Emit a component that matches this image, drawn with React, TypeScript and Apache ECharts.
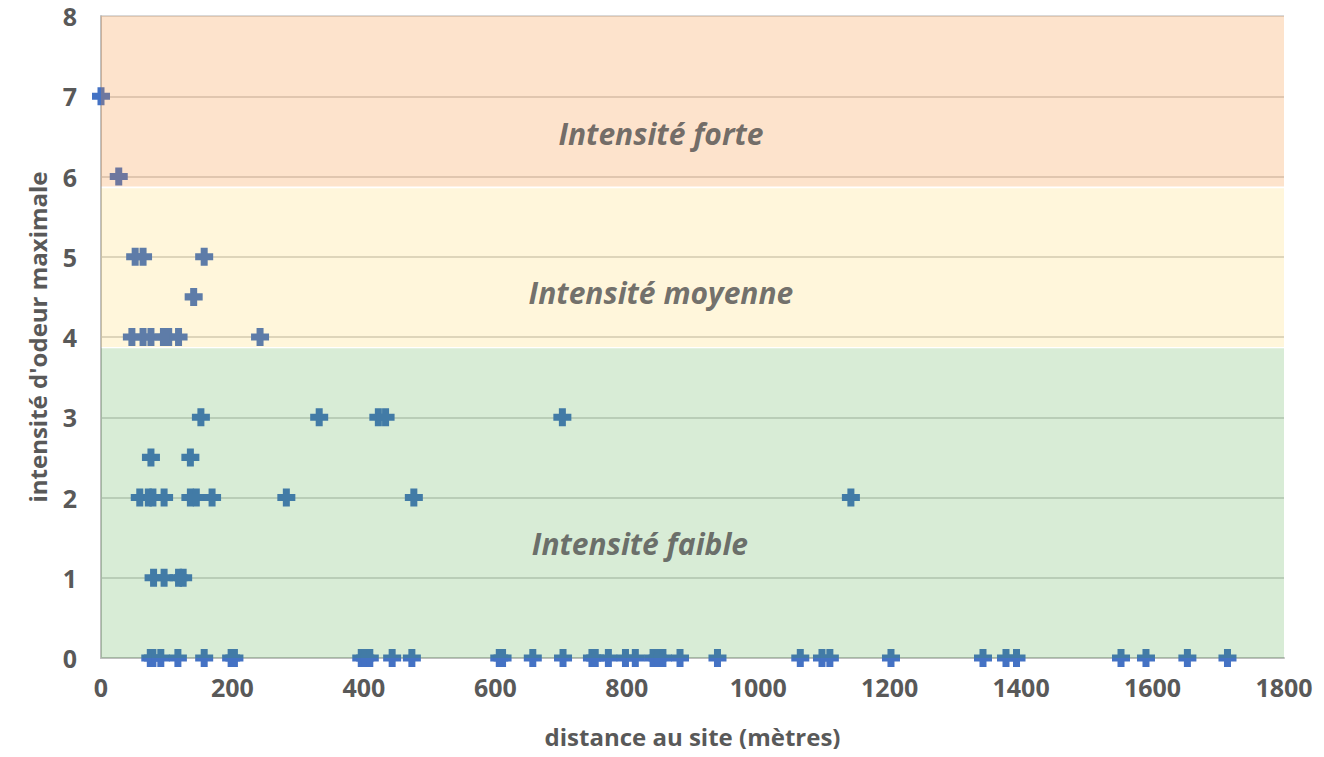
import React, { useEffect, useRef } from "react";
import * as echarts from "echarts";

const distances: number[] = [
  0, 27,
  52, 64, 157,
  141,
  47, 64, 76, 95, 103, 118, 242,
  152, 332, 422, 433, 702,
  76, 136,
  59, 72, 79, 96, 136, 145, 169, 282, 476, 1141,
  80, 96, 118, 125,
  75, 79, 91, 117, 157, 198, 203, 396, 402, 409, 443, 473, 606, 611, 657, 703,
  747, 752, 772, 798, 813, 840, 847, 855, 881, 938, 1064, 1097, 1109, 1202,
  1342, 1377, 1393, 1552, 1590, 1653, 1714,
];
const intensities: number[] = [
  7, 6,
  5, 5, 5,
  4.5,
  4, 4, 4, 4, 4, 4, 4,
  3, 3, 3, 3, 3,
  2.5, 2.5,
  2, 2, 2, 2, 2, 2, 2, 2, 2, 2,
  1, 1, 1, 1,
  0, 0, 0, 0, 0, 0, 0, 0, 0, 0, 0, 0, 0, 0, 0, 0,
  0, 0, 0, 0, 0, 0, 0, 0, 0, 0, 0, 0, 0, 0,
  0, 0, 0, 0, 0, 0, 0,
];

const bandNames: string[] = ["Intensité faible", "Intensité moyenne", "Intensité forte"];
const bandLow: number[] = [0, 3.875, 5.875];
const bandHigh: number[] = [3.86, 5.855, 8];
const bandLabelX: number[] = [820, 852, 852];
const bandLabelY: number[] = [1.43, 4.55, 6.54];
const bandColors: string[] = [
  "rgba(60,160,50,0.2)",
  "rgba(255,192,0,0.14)",
  "rgba(245,140,40,0.24)",
];

const xTicks = { min: 0, max: 1800, interval: 200 };
const yTicks = { min: 0, max: 8, interval: 1 };

const FONT = "'Open Sans', 'Liberation Sans', sans-serif";
const PLUS = "path://M5.5,0 H12.5 V5.5 H18 V12.5 H12.5 V18 H5.5 V12.5 H0 V5.5 H5.5 Z";

export default function App() {
  const ref = useRef<HTMLDivElement>(null);
  useEffect(() => {
    if (!ref.current) return;
    const chart = echarts.init(ref.current, null, { renderer: "svg" });
    const points = distances.map((d, i) => [d, intensities[i]]);
    const bands = bandNames.map((n, i) => [bandLow[i], bandHigh[i], i]);
    const labels = bandNames.map((n, i) => ({ name: n, value: [bandLabelX[i], bandLabelY[i]] }));
    chart.setOption({
      animation: false,
      backgroundColor: "#ffffff",
      grid: { left: 101, right: 40, top: 16, bottom: 99, containLabel: false },
      xAxis: {
        type: "value",
        ...xTicks,
        name: "distance au site (mètres)",
        nameLocation: "middle",
        nameGap: 66,
        nameTextStyle: { fontFamily: FONT, fontSize: 24, fontWeight: "bold", color: "#595959" },
        axisLine: { show: true, lineStyle: { color: "#BFBFBF", width: 2 } },
        axisTick: { show: false },
        splitLine: { show: false },
        axisLabel: {
          fontFamily: FONT,
          fontSize: 25,
          fontWeight: "bold",
          color: "#595959",
          margin: 16,
          formatter: (v: number) => String(v),
        },
      },
      yAxis: {
        type: "value",
        ...yTicks,
        name: "intensité d'odeur maximale",
        nameLocation: "middle",
        nameGap: 52,
        nameTextStyle: { fontFamily: FONT, fontSize: 24, fontWeight: "bold", color: "#595959" },
        axisLine: { show: true, lineStyle: { color: "#BFBFBF", width: 2 } },
        axisTick: { show: false },
        splitLine: { show: true, lineStyle: { color: "#D9D9D9", width: 2 } },
        axisLabel: { fontFamily: FONT, fontSize: 25, fontWeight: "bold", color: "#595959", margin: 24 },
      },
      series: [
        {
          type: "scatter",
          z: 2,
          data: points,
          symbol: PLUS,
          symbolSize: 18,
          clip: false,
          itemStyle: { color: "#4472C4", opacity: 1 },
        },
        {
          type: "custom",
          z: 5,
          data: bands,
          silent: true,
          renderItem: (params: any, api: any) => {
            const lo = api.value(0);
            const hi = api.value(1);
            const idx = api.value(2);
            const p0 = api.coord([xTicks.min, hi]);
            const p1 = api.coord([xTicks.max, lo]);
            return {
              type: "rect",
              shape: { x: p0[0], y: p0[1], width: p1[0] - p0[0], height: p1[1] - p0[1] },
              style: { fill: bandColors[idx] },
            };
          },
        },
        {
          type: "scatter",
          z: 6,
          data: labels,
          symbolSize: 0,
          silent: true,
          label: {
            show: true,
            position: "inside",
            formatter: (p: any) => p.name,
            fontFamily: FONT,
            fontSize: 30,
            fontWeight: "bold",
            fontStyle: "italic",
            color: "#4d4d4d",
          },
        },
      ],
    });
    return () => chart.dispose();
  }, []);
  return <div ref={ref} style={{ width: 1324, height: 757, margin: -8 }} />;
}
